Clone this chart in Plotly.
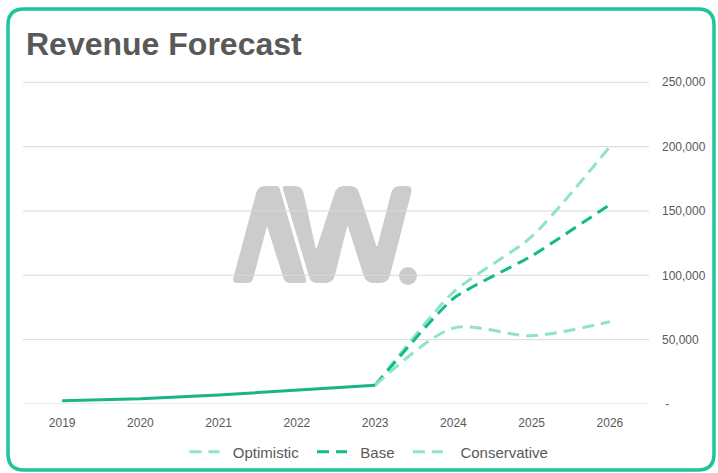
import math
import plotly.graph_objects as go

# ---------------- data ----------------
years = ["2019", "2020", "2021", "2022", "2023", "2024", "2025", "2026"]
hist_years = ["2019", "2020", "2021", "2022", "2023"]
historical = [2500, 4000, 7000, 10500, 14500]
fc_years = ["2023", "2024", "2025", "2026"]
optimistic = [14500, 87000, 130000, 200000]
base = [14500, 82000, 115000, 155000]
conservative = [14500, 59000, 53000, 64000]
series_names = ["Optimistic", "Base", "Conservative"]
y_ticks = [0, 50000, 100000, 150000, 200000, 250000]
y_ticktext = [" -", "50,000", "100,000", "150,000", "200,000", "250,000"]

# ---------------- layout geometry (pixels) ----------------
FW, FH = 718, 473
ML, MR, MT, MB = 23, 69, 81, 69
PW = FW - ML - MR
PH = FH - MT - MB
YMAX = 251000  # a bit above 250,000 so the top gridline is fully visible

def to_dom(x, y):
    return (x - ML) / PW, (FH - MB - y) / PH

def rounded_path(pts, radii):
    n = len(pts)
    segs = []
    for i in range(n):
        p0 = pts[i - 1]
        p1 = pts[i]
        p2 = pts[(i + 1) % n]
        r = radii[i]
        d0 = math.hypot(p0[0] - p1[0], p0[1] - p1[1])
        d2 = math.hypot(p2[0] - p1[0], p2[1] - p1[1])
        a = (p1[0] + (p0[0] - p1[0]) * r / d0, p1[1] + (p0[1] - p1[1]) * r / d0)
        b = (p1[0] + (p2[0] - p1[0]) * r / d2, p1[1] + (p2[1] - p1[1]) * r / d2)
        segs.append((a, p1, b))
    def f(p):
        x, y = to_dom(*p)
        return f"{x:.5f},{y:.5f}"
    s = f"M {f(segs[0][2])} "
    for i in range(1, n):
        a, c, b = segs[i]
        s += f"L {f(a)} Q {f(c)} {f(b)} "
    a, c, b = segs[0]
    s += f"L {f(a)} Q {f(c)} {f(b)} Z"
    return s

LOGO = "#cccccc"
GRID = "#d9d9d9"
shapes = []
# watermark logo "AW." - A part
a_pts = [(232, 283), (258, 186), (279, 186), (307, 283), (285, 283), (267, 226), (252, 283)]
a_rad = [5, 7, 3, 3, 5, 2, 5]
shapes.append(dict(type="path", path=rounded_path(a_pts, a_rad), xref="x domain", yref="y domain",
                   fillcolor=LOGO, line=dict(width=0), layer="below"))
# W part
w_pts = [(282, 186), (302, 186), (316, 250), (337, 186), (357, 186), (377, 248), (393, 186),
         (413, 186), (388, 283), (366, 283), (347.5, 225), (333, 283), (311, 283)]
w_rad = [3, 7, 3, 7, 7, 3, 7, 7, 8, 8, 2, 8, 6]
shapes.append(dict(type="path", path=rounded_path(w_pts, w_rad), xref="x domain", yref="y domain",
                   fillcolor=LOGO, line=dict(width=0), layer="below"))
# dot
cx, cy, rr = 408, 276, 9
x0, y0 = to_dom(cx - rr, cy + rr)
x1, y1 = to_dom(cx + rr, cy - rr)
shapes.append(dict(type="circle", xref="x domain", yref="y domain", x0=x0, y0=y0, x1=x1, y1=y1,
                   fillcolor=LOGO, line=dict(width=0), layer="below"))

# gridlines drawn above the watermark (one per y tick)
for v in y_ticks:
    shapes.append(dict(type="line", xref="x domain", yref="y", x0=0, x1=1, y0=v, y1=v,
                       line=dict(color=GRID, width=1), layer="below"))

# border (rounded rectangle)
bx0, by0, bx1, by1, br = 8, 9, 714, 470, 16
b_pts = [(bx0, by0), (bx1, by0), (bx1, by1), (bx0, by1)]
shapes.append(dict(type="path", path=rounded_path(b_pts, [br] * 4), xref="paper", yref="paper",
                   fillcolor="rgba(0,0,0,0)", line=dict(color="#1cc698", width=3.5), layer="above"))

LIGHT = "#8fe3c9"
DARK = "#0fba8c"
HIST = "#1bb48a"
DASH = "12px,7px"
NB = "\u00a0"

def lname(s, pre=2, post=1):
    return NB * pre + s + NB * post

fig = go.Figure()
fig.add_trace(go.Scatter(x=fc_years, y=optimistic, name=lname(series_names[0], 2, 2), mode="lines",
                         line=dict(color=LIGHT, width=3, dash=DASH, shape="spline", smoothing=0.6)))
fig.add_trace(go.Scatter(x=fc_years, y=base, name=lname(series_names[1], 2, 2), mode="lines",
                         line=dict(color=DARK, width=3, dash=DASH, shape="spline", smoothing=0.5)))
fig.add_trace(go.Scatter(x=fc_years, y=conservative, name=lname(series_names[2], 3, 0), mode="lines",
                         line=dict(color=LIGHT, width=3, dash=DASH, shape="spline", smoothing=0.8)))
fig.add_trace(go.Scatter(x=hist_years, y=historical, name="Actual", mode="lines", showlegend=False,
                         line=dict(color=HIST, width=3)))

lx, ly = to_dom(369, 452)
fig.update_layout(
    width=FW, height=FH,
    margin=dict(l=ML, r=MR, t=MT, b=MB, autoexpand=False),
    paper_bgcolor="white", plot_bgcolor="white",
    font=dict(family="Liberation Sans, Arial, sans-serif", color="#595959"),
    title=dict(text="<b>Revenue Forecast</b>", x=26 / FW, xanchor="left", xref="container",
               y=1 - 44 / FH, yanchor="middle", yref="container",
               font=dict(size=32, color="#595959")),
    xaxis=dict(type="category", categoryorder="array", categoryarray=years,
               range=[-0.5, 7.5], showgrid=False, zeroline=False, showline=False,
               ticks="", tickfont=dict(size=12, color="#595959"), ticklabelstandoff=10),
    yaxis=dict(side="right", range=[0, YMAX], tickvals=y_ticks, ticktext=y_ticktext,
               showgrid=False, zeroline=False, showline=False,
               ticks="", tickfont=dict(size=12, color="#595959"), ticklabelstandoff=12),
    legend=dict(orientation="h", x=lx, xanchor="center", y=ly, yanchor="middle",
                font=dict(size=15, color="#595959"), bgcolor="rgba(0,0,0,0)"),
    shapes=shapes,
    showlegend=True,
)

fig.write_html("out.html", config={"displayModeBar": False},
               post_script="document.body.style.margin='0';document.body.style.padding='0';")
